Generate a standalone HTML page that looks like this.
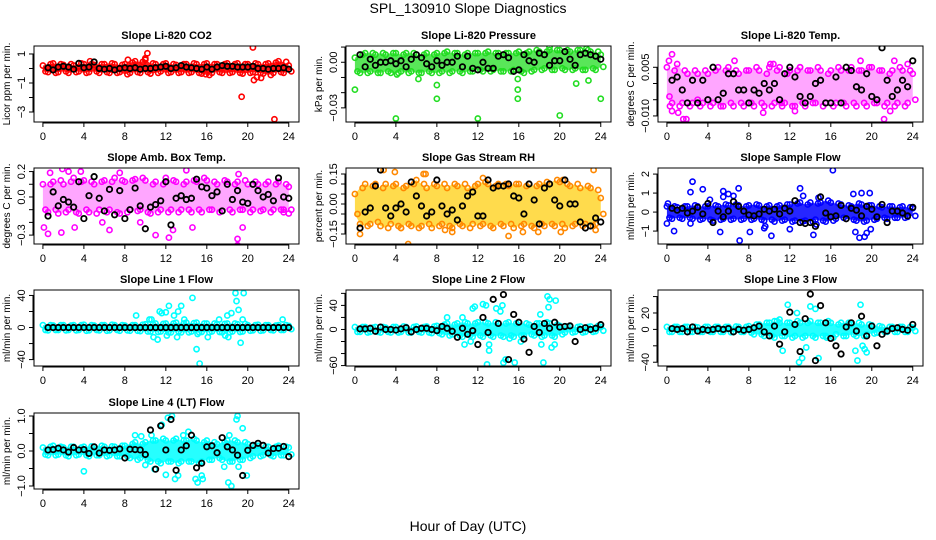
<!DOCTYPE html>
<html><head><meta charset="utf-8">
<style>
html,body{margin:0;padding:0;background:#fff;}
svg{display:block;font-family:"Liberation Sans",Arial,sans-serif;}
</style></head>
<body>
<svg id="chart" width="936" height="540" viewBox="0 0 936 540" xmlns="http://www.w3.org/2000/svg">
<text x="468" y="13" font-size="14" text-anchor="middle">SPL_130910  Slope Diagnostics</text>
<text x="468" y="531" font-size="14" text-anchor="middle">Hour of Day (UTC)</text>
</svg>
<script>
const xTicks = [0,4,8,12,16,20,24];
const hi1 = [0.2,0.3,0.35,0.3,0.25,0.3,0.2,0.35,0.3,0.3,0.25,0.3,0.3,0.35,0.3,0.25,0.3,0.4,0.5,0.45,0.6,0.35,0.3,0.3,0.35,0.3,0.25,0.3,0.3,0.35,0.3,0.3,0.35,0.3,0.3,0.3,0.35,0.3,0.35,0.3,0.3,0.35,0.3,0.3,0.35,0.4,0.5,0.45,0.2];
const lo1 = [-0.2,-0.25,-0.3,-0.25,-0.2,-0.3,-0.25,-0.2,-0.3,-0.25,-0.2,-0.3,-0.25,-0.3,-0.3,-0.25,-0.4,-0.3,-0.25,-0.3,-0.25,-0.35,-0.3,-0.2,-0.3,-0.25,-0.3,-0.25,-0.3,-0.25,-0.3,-0.35,-0.45,-0.3,-0.25,-0.3,-0.3,-0.25,-0.3,-0.35,-0.3,-0.25,-0.3,-0.35,-0.45,-0.3,-0.25,-0.3,-0.2];
const blk1 = [0.05,-0.1,0.1,0.15,0.1,-0.05,0.35,0.05,0.1,0.45,0,-0.05,0,-0.1,0,0.05,0,0.05,-0.05,0,0,0.05,0.1,0.15,0,0.05,0.2,0.1,0.05,0,-0.05,0.1,-0.05,0.1,0.2,0.15,0.15,0.1,0.1,0.1,0.15,0,0,-0.05,0,0,0.05,-0.05];
const out1 = [[10.2,1.05],[19.4,-1.95],[20.5,1.45],[20.6,-0.8],[20.9,-0.6],[21.3,-0.65],[22.6,-3.5],[4.6,0.5],[8.3,0.6],[10,0.7],[15.9,-0.4]];

const hi2 = [0.003,0.005,0.006,0.006,0.005,0.006,0.005,0.006,0.006,0.005,0.006,0.006,0.005,0.005,0.006,0.005,0.006,0.006,0.007,0.006,0.006,0.005,0.006,0.006,0.006,0.006,0.007,0.006,0.006,0.006,0.006,0.006,0.007,0.006,0.007,0.008,0.007,0.007,0.008,0.008,0.008,0.008,0.007,0.008,0.008,0.008,0.007,0.007,0.005];
const lo2 = [-0.006,-0.007,-0.007,-0.006,-0.007,-0.007,-0.006,-0.007,-0.007,-0.006,-0.007,-0.006,-0.007,-0.007,-0.006,-0.007,-0.007,-0.006,-0.007,-0.006,-0.006,-0.007,-0.006,-0.006,-0.005,-0.006,-0.006,-0.005,-0.006,-0.006,-0.006,-0.005,-0.006,-0.007,-0.006,-0.005,-0.005,-0.004,-0.005,-0.005,-0.004,-0.005,-0.005,-0.004,-0.005,-0.005,-0.004,-0.005,-0.003];
const blk2 = [0.005,-0.003,0.002,-0.002,0,0,0.001,-0.001,0.001,-0.003,0.002,0.005,0.003,-0.001,-0.003,0.001,-0.002,0,0,0.004,-0.003,0.004,-0.004,-0.005,0,-0.004,-0.004,0.004,0.005,0.003,-0.006,-0.005,0.005,0.001,0,0.006,0.005,-0.002,0.001,0.001,0.007,0.002,-0.002,0.005,0.006,0.005,0.004,0.002];
const out2 = [[0,-0.018],[4,-0.037],[6.2,-0.011],[8,-0.015],[8,-0.024],[12,-0.037],[15.9,-0.011],[15.9,-0.018],[15.9,-0.024],[19,0.01],[20,-0.035],[21.6,-0.014],[22.6,0.009],[22.8,-0.012],[24,-0.024],[4.1,-0.008]];

const hi3 = [0.005,0.004,0.006,0.004,0.003,0.004,0.003,0.004,0.003,0.004,0.005,0.004,0.005,0.004,0.003,0.004,0.004,0.005,0.004,0.003,0.005,0.004,0.005,0.003,0.004,0.004,0.005,0.004,0.004,0.005,0.004,0.003,0.004,0.005,0.004,0.004,0.005,0.004,0.004,0.005,0.005,0.004,0.004,0.003,0.004,0.005,0.004,0.004,0.003];
const lo3 = [-0.004,-0.006,-0.007,-0.006,-0.007,-0.006,-0.007,-0.006,-0.007,-0.006,-0.007,-0.007,-0.006,-0.007,-0.006,-0.007,-0.006,-0.007,-0.006,-0.007,-0.007,-0.006,-0.007,-0.006,-0.007,-0.007,-0.006,-0.007,-0.006,-0.006,-0.007,-0.006,-0.007,-0.006,-0.006,-0.007,-0.006,-0.007,-0.006,-0.007,-0.006,-0.006,-0.007,-0.006,-0.007,-0.006,-0.007,-0.006,-0.005];
const blk3 = [0.001,0.002,-0.002,-0.006,0.001,-0.006,0.001,-0.005,0.005,-0.005,-0.003,0.003,0.003,-0.002,-0.002,-0.006,-0.002,-0.003,0,-0.002,0,-0.005,0.003,0.005,0.002,-0.004,-0.006,-0.004,0,0.001,-0.006,-0.006,0.002,-0.006,0.005,0.004,-0.001,-0.002,0.003,-0.004,-0.005,0.011,0.001,-0.004,-0.002,0.001,-0.001,0.007];
const out3 = [[0.2,0.007],[0.5,0.009],[0.3,-0.007],[0.5,-0.0085],[1.6,-0.011],[1.9,-0.011],[1.1,-0.009],[3,-0.005],[9.4,-0.009],[11.2,-0.006],[12.5,-0.0085],[21.2,-0.011],[21.8,-0.0085],[6.6,0.007],[10.4,0.006],[18.9,0.007],[22.2,0.007],[23.5,0.006],[10.1,0.006],[13,0.005]];

const hi4 = [0.1,0.1,0.12,0.13,0.1,0.12,0.15,0.12,0.13,0.12,0.1,0.12,0.13,0.12,0.15,0.13,0.12,0.13,0.14,0.15,0.13,0.1,0.12,0.1,0.15,0.13,0.12,0.1,0.12,0.13,0.12,0.15,0.13,0.12,0.1,0.13,0.12,0.1,0.12,0.13,0.1,0.12,0.1,0.1,0.12,0.1,0.12,0.1,0.08];
const lo4 = [-0.1,-0.12,-0.1,-0.13,-0.12,-0.1,-0.12,-0.13,-0.1,-0.12,-0.13,-0.1,-0.12,-0.1,-0.12,-0.13,-0.12,-0.1,-0.11,-0.1,-0.12,-0.13,-0.12,-0.1,-0.12,-0.1,-0.12,-0.1,-0.1,-0.12,-0.1,-0.12,-0.1,-0.1,-0.12,-0.11,-0.1,-0.12,-0.1,-0.1,-0.12,-0.1,-0.11,-0.1,-0.12,-0.1,-0.1,-0.12,-0.1];
const blk4 = [-0.15,0.04,-0.07,-0.02,-0.04,-0.08,0.12,-0.17,0.01,0.16,-0.01,-0.11,0.06,-0.14,0.05,-0.17,-0.1,0.07,-0.07,-0.25,-0.08,-0.06,-0.03,0.12,-0.22,-0.01,0.01,-0.02,-0.01,0.14,0.08,0.07,0.01,0.04,-0.11,0.1,-0.02,0.05,-0.04,-0.05,0.1,0.05,0,0.02,-0.03,0.15,0,-0.01];
const out4 = [[0.1,-0.24],[0.5,-0.29],[0.7,0.19],[1.8,-0.28],[1.9,0.22],[2.5,0.2],[3.1,-0.24],[3.7,0.2],[5.8,-0.2],[6.5,-0.26],[7.5,0.19],[9.5,-0.2],[11,-0.3],[12.3,-0.32],[12.7,-0.26],[14,0.21],[14.6,-0.24],[19,-0.33],[19,-0.38],[19.5,-0.24],[23.5,-0.1],[24,-0.13],[19.1,0.18]];

const hi5 = [0.05,0.08,0.1,0.09,0.1,0.08,0.1,0.09,0.1,0.08,0.09,0.1,0.12,0.1,0.08,0.1,0.09,0.1,0.08,0.1,0.09,0.1,0.08,0.09,0.1,0.11,0.1,0.09,0.1,0.1,0.09,0.1,0.1,0.09,0.1,0.09,0.1,0.11,0.1,0.12,0.11,0.1,0.09,0.1,0.08,0.09,0.08,0.07,0.03];
const lo5 = [-0.05,-0.1,-0.11,-0.1,-0.09,-0.11,-0.12,-0.1,-0.11,-0.12,-0.1,-0.11,-0.12,-0.11,-0.1,-0.12,-0.11,-0.1,-0.11,-0.12,-0.1,-0.11,-0.12,-0.1,-0.11,-0.1,-0.11,-0.12,-0.1,-0.11,-0.1,-0.12,-0.11,-0.1,-0.11,-0.12,-0.1,-0.11,-0.1,-0.11,-0.1,-0.12,-0.11,-0.1,-0.11,-0.1,-0.11,-0.1,-0.05];
const blk5 = [-0.12,-0.04,-0.02,0.09,0.17,-0.02,-0.06,-0.02,0,-0.04,0.11,0.04,-0.01,-0.06,-0.04,0.12,-0.01,-0.05,-0.03,-0.08,-0.01,0.04,0.06,-0.06,-0.06,0.12,0.08,0.09,0.09,0.1,0.04,0.03,-0.05,0.1,0.02,-0.1,0.08,0.1,0.02,-0.01,0.12,0,0,-0.09,-0.12,-0.11,-0.07,-0.09];
const out5 = [[0.5,-0.15],[2.8,0.17],[3.9,0.16],[5.2,-0.2],[6.7,0.15],[6.9,0.15],[8.8,-0.13],[9.5,-0.14],[15,-0.16],[16.4,-0.14],[17.9,-0.14],[20.1,-0.14],[23.3,0.17],[23.5,-0.13],[12.5,0.13],[20.3,0.12],[4.5,-0.12]];

const hi6 = [0.3,0.3,0.25,0.3,0.3,0.35,0.3,0.3,0.3,0.35,0.3,0.4,0.35,0.4,0.35,0.3,0.35,0.4,0.35,0.3,0.35,0.3,0.35,0.4,0.4,0.45,0.5,0.4,0.5,0.45,0.5,0.6,0.5,0.45,0.4,0.35,0.3,0.45,0.4,0.35,0.35,0.3,0.25,0.3,0.3,0.25,0.3,0.25,0.2];
const lo6 = [-0.3,-0.35,-0.3,-0.35,-0.3,-0.35,-0.4,-0.35,-0.4,-0.45,-0.4,-0.35,-0.4,-0.35,-0.4,-0.35,-0.4,-0.35,-0.4,-0.45,-0.4,-0.5,-0.45,-0.4,-0.5,-0.45,-0.5,-0.45,-0.5,-0.4,-0.45,-0.5,-0.45,-0.35,-0.3,-0.35,-0.4,-0.45,-0.5,-0.45,-0.4,-0.35,-0.3,-0.35,-0.3,-0.3,-0.3,-0.25,-0.2];
const blk6 = [0.2,0.1,0.2,-0.05,0.05,0.25,-0.1,0.45,-0.55,0.05,-0.25,0.05,0.55,0.3,0.05,-0.15,-0.2,-0.1,0.15,0.05,0.15,-0.1,0.2,0.05,0.6,-0.55,-0.6,-0.55,-0.75,0.8,-0.05,-0.25,-0.2,0.35,-0.35,0.2,0.1,-0.2,0.3,0.15,-0.25,0.4,-0.55,0.05,0.05,-0.05,-0.2,0.25];
const out6 = [[0,-0.6],[0.1,0.45],[0.7,-1.0],[2.3,-0.6],[2.3,1.05],[2.5,1.6],[3.5,1.2],[4.2,0.65],[5.2,-1.05],[5.5,1.1],[5.5,0.8],[6,0.95],[6.5,0.85],[7,1.25],[7.1,-1.5],[8.1,-1.05],[9.5,-0.85],[9.6,-0.75],[10.2,-1.25],[12,-0.9],[13,1.25],[13.3,0.85],[14.3,-1.2],[14.6,-0.65],[16.2,2.2],[18.2,0.95],[18.4,-1.05],[18.8,-1.35],[19,1.0],[19.3,-1.3],[19.5,-1.1],[19.8,1.0],[19.9,-0.9],[14.8,0.75]];

const hi7 = [3,3,2.5,3,3,2.5,3,3,3.5,3,2.5,3,3,3.5,3,3,2.5,3,3,3.5,4,4,5,4.5,5,5,6,5,6,5.5,6,5,5,5,4,4.5,5,5,4,4.5,3,3,3.5,3,3,2.5,3,3,2];
const lo7 = [-3,-3.5,-3,-3,-3.5,-3,-3.5,-3,-4,-3.5,-3,-3.5,-4,-3.5,-3,-4,-3.5,-4,-4,-4.5,-5,-5,-5.5,-5,-6,-6,-5,-6,-6,-5,-6,-5.5,-6,-5,-5.5,-6,-6,-5,-5.5,-5,-4,-3.5,-4,-3.5,-3,-3.5,-3,-3,-2];
const blk7 = [0,0,0,0,0,0,0,0,0,0,0,0,0,0,0,0,0,0,0,0,0,0,0,0,0,0,0,0,0,0,0,0,0,0,0,0,0,0,0,0,0,0,0,0,0,0,0,0];
const out7 = [[9.1,15],[10.4,10],[10.8,-12],[11.2,-15],[11.4,20],[11.6,18],[12,19],[12.1,-10],[12.3,27],[12.8,15],[13.1,-12],[13.2,20],[13.5,27],[13.8,10],[14.6,37],[15,-27],[15.3,-45],[15.1,-8],[16.1,-12],[17.2,10],[17.8,-10],[18,15],[18.4,18],[18.1,-12],[18.8,43],[18.9,33],[19.1,22],[19.3,-19],[19.6,43],[19.5,10],[23.4,10],[10.6,10]];

const hi8 = [4,4,4,3,4,4,3,4,4,5,4,4,5,4,5,5,6,8,10,8,10,12,10,10,12,12,10,12,10,10,12,10,12,10,8,10,10,12,10,8,6,5,5,4,5,4,5,6,4];
const lo8 = [-4,-4,-5,-4,-4,-5,-4,-5,-5,-4,-5,-5,-4,-5,-5,-6,-6,-8,-10,-8,-10,-12,-10,-12,-10,-12,-10,-12,-10,-12,-10,-12,-10,-10,-8,-10,-12,-10,-10,-12,-8,-5,-5,-4,-5,-4,-4,-3,-2];
const blk8 = [1,1,2,-3,4,0,0,-1,1,3,-4,0,2,2,0,-2,5,2,-3,-13,2,-8,-2,-25,20,-5,50,10,58,-50,25,12,-16,-38,5,-5,10,2,12,4,5,6,-20,0,3,0,2,8];
const out8 = [[9,20],[10.5,20],[10.7,-25],[11.3,-20],[11.5,35],[11.7,38],[12.5,42],[12.8,40],[12.9,-58],[13.1,-25],[13.1,-35],[13.8,35],[14.2,30],[14.4,40],[14.5,-55],[14.7,-50],[15.1,-15],[15.6,-55],[16.2,-20],[18.1,25],[18.2,-25],[18.4,-55],[18.8,55],[19,50],[19.2,-30],[19.5,-25],[19.6,48],[18.9,37]];

const hi9 = [3,3,3,3,3,3,2.5,3,3,3,3,3,3,3.5,3,3,4,6,6,8,8,10,8,8,8,10,8,8,10,8,8,10,8,6,8,8,6,8,6,6,5,4,3,3,3,3,3,3,2];
const lo9 = [-3,-3,-3,-3,-3,-3,-3,-3,-3,-3,-3,-3,-3.5,-3,-3,-3,-4,-6,-6,-8,-8,-10,-8,-8,-10,-8,-10,-8,-8,-10,-8,-8,-10,-6,-8,-8,-6,-8,-8,-6,-5,-4,-3,-3,-3,-3,-3,-3,-2];
const blk9 = [1,0,1,-3,3,-2,0,-1,0,1,0,1,-3,0,-1,0,2,4,-3,-8,4,-18,-3,21,6,-27,13,43,-38,29,8,-11,-20,-30,3,8,-2,16,-8,4,-20,-6,-2,1,2,0,-1,6];
const out9 = [[11.3,-26],[11.8,30],[12.7,20],[12.9,-40],[13.2,-35],[13.6,-22],[14,28],[14.5,25],[14.8,-35],[15.6,-10],[18.4,-26],[18.6,-38],[18.9,30],[19.1,-20],[19.3,-24],[19.5,-28],[17.8,6],[10.5,10],[11,12]];

const hi10 = [0.1,0.12,0.15,0.12,0.1,0.12,0.12,0.1,0.12,0.13,0.12,0.15,0.12,0.13,0.12,0.15,0.15,0.2,0.25,0.2,0.25,0.3,0.3,0.35,0.3,0.3,0.35,0.3,0.3,0.35,0.3,0.25,0.3,0.25,0.2,0.25,0.3,0.3,0.25,0.25,0.2,0.15,0.15,0.12,0.12,0.12,0.15,0.12,0.1];
const lo10 = [-0.1,-0.12,-0.12,-0.1,-0.12,-0.15,-0.12,-0.1,-0.12,-0.15,-0.12,-0.12,-0.15,-0.12,-0.15,-0.15,-0.15,-0.2,-0.25,-0.2,-0.25,-0.3,-0.3,-0.35,-0.3,-0.3,-0.35,-0.3,-0.3,-0.3,-0.35,-0.3,-0.25,-0.25,-0.2,-0.25,-0.3,-0.3,-0.25,-0.25,-0.2,-0.15,-0.15,-0.12,-0.12,-0.15,-0.12,-0.12,-0.1];
const blk10 = [0.03,0.04,0.08,0.03,-0.03,0.1,0.03,0.04,-0.07,0.12,-0.06,0.03,0.02,0.03,0.06,-0.2,0.05,0.04,0.03,-0.1,0.6,-0.52,0.72,0.03,0.9,-0.55,0.03,0.15,0.45,-0.48,-0.35,0.12,0.15,-0.05,0.38,0.12,0.03,-0.12,-0.7,0.02,0.16,0.22,0.16,-0.06,0.07,0.08,0.13,-0.16];
const out10 = [[4,-0.58],[9,0.45],[9.6,0.42],[10,-0.4],[10.6,0.45],[10.9,-0.52],[11.6,0.75],[12,-0.68],[12.2,0.95],[12.6,1.0],[12.9,-0.8],[13.2,-0.7],[13.7,0.45],[14.2,0.55],[14.9,-0.8],[15.1,-0.9],[15.5,-0.7],[15.6,-0.8],[18.1,-0.9],[18.4,-1.0],[18.2,0.45],[18.9,0.9],[19,1.0],[19.1,-0.45],[19.5,0.65],[19.9,-0.7],[17.7,-0.45]];

const titles = ["Slope Li-820 CO2","Slope Li-820 Pressure","Slope Li-820 Temp.","Slope Amb. Box Temp.","Slope Gas Stream RH","Slope Sample Flow","Slope Line 1 Flow","Slope Line 2 Flow","Slope Line 3 Flow","Slope Line 4 (LT) Flow"];
const yTitles = ["Licor ppm per min.","kPa per min.","degrees C per min.","degrees C per min.","percent per min.","ml/min per min.","ml/min per min.","ml/min per min.","ml/min per min.","ml/min per min."];
const yLims = [[-3.69,1.55],[-0.0393,0.0107],[-0.01187,0.01156],[-0.37,0.228],[-0.20,0.18],[-1.68,2.32],[-48,46.8],[-60.7,65.6],[-44.6,48],[-1.086,1.086]];
const yTicks = [[1,0,-1,-2,-3],[0.01,0,-0.01,-0.02,-0.03],[0.005,0,-0.005,-0.01],[0.2,0.1,0,-0.1,-0.2,-0.3],[0.15,0.1,0.05,0,-0.05,-0.1,-0.15],[2,1,0,-1],[40,20,0,-20,-40],[60,40,20,0,-20,-40,-60],[40,20,0,-20,-40],[1,0.5,0,-0.5,-1]];
const yTickLabels = [["1","","−1","","−3"],["","0.00","","","−0.03"],["0.005","","","−0.010"],["0.2","","0.0","","","−0.3"],["0.15","","","0.00","","","−0.15"],["2","1","0","−1"],["40","","0","","−40"],["","40","","0","","","−60"],["","20","0","","−40"],["1.0","","0.0","","−1.0"]];
const hiArr = [hi1,hi2,hi3,hi4,hi5,hi6,hi7,hi8,hi9,hi10];
const loArr = [lo1,lo2,lo3,lo4,lo5,lo6,lo7,lo8,lo9,lo10];
const blkArr = [blk1,blk2,blk3,blk4,blk5,blk6,blk7,blk8,blk9,blk10];
const outArr = [out1,out2,out3,out4,out5,out6,out7,out8,out9,out10];
const colors = ["#ff0000","#22dd22","#ff00ff","#ff00ff","#ff8800","#0000ff","#00ffff","#00ffff","#00ffff","#00ffff"];
const bandColors = ["#ff0000","#22dd22","#ff00ff","#ff00ff","#ffcc00","#0000ff","#00ffff","#00ffff","#00ffff","#00ffff"];
const bandOpacity = [0.9,0.75,0.35,0.35,0.7,0.85,0.9,0.85,0.85,0.85];

const NS = "http://www.w3.org/2000/svg";
const svg = document.getElementById('chart');
const colLeft = [34,346,658], rowTop = [46,168,290,413];
const PW = 265, PH = 76, XMIN = -0.87, XMAX = 25.0;

function mk(tag, attrs, parent){
  const e = document.createElementNS(NS, tag);
  for (const k in attrs) e.setAttribute(k, attrs[k]);
  (parent||svg).appendChild(e);
  return e;
}

for (let p = 0; p < 10; p++) {
  const L = colLeft[p % 3], T = rowTop[Math.floor(p / 3)];
  const [ymin, ymax] = yLims[p];
  const xs = h => L + (h - XMIN) / (XMAX - XMIN) * PW;
  const ys = v => T + PH - (v - ymin) / (ymax - ymin) * PH;
  const g = mk('g', {});
  
  
  const clipId = 'clip' + p;
  const cp = mk('clipPath', {id: clipId}, g);
  mk('rect', {x: L, y: T, width: PW, height: PH}, cp);

  const tt = mk('text', {x: L + PW / 2, y: T - 7, 'font-size': 11, 'font-weight': 'bold', 'text-anchor': 'middle'}, g);
  tt.textContent = titles[p];
  
  

  const yt = mk('text', {x: 0, y: 0, 'font-size': 10, 'text-anchor': 'middle', transform: `translate(${L - 24},${T + PH / 2}) rotate(-90)`}, g);
  yt.textContent = yTitles[p];
  
  

  const marks = mk('g', {'clip-path': `url(#${clipId})`}, g);
  
  
  const col = colors[p];
  const hi = hiArr[p], lo = loArr[p];
  let pts = [];
  hi.forEach((v, i) => pts.push(xs(0.5 * i) + ',' + ys(v)));
  for (let i = lo.length - 1; i >= 0; i--) pts.push(xs(0.5 * i) + ',' + ys(lo[i]));
  const band = mk('polygon', {points: pts.join(' '), fill: bandColors[p], 'fill-opacity': bandOpacity[p], stroke: 'none'}, marks);
  
  
  const circ = (h, v, c, w, r) => mk('circle', {cx: xs(h), cy: ys(v), r: r, fill: 'none', stroke: c, 'stroke-width': w}, marks);
  hi.forEach((v, i) => {
    const e = circ(0.5 * i + 0.25 * (i % 2), v, col, 1.6, 2.6);
    
    
  });
  lo.forEach((v, i) => {
    const e = circ(0.5 * i + 0.25 * ((i + 1) % 2), v, col, 1.6, 2.6);
    
    
  });
  outArr[p].forEach(o => {
    const e = circ(o[0], o[1], col, 1.6, 2.6);
    
    
  });
  blkArr[p].forEach((v, i) => {
    const e = circ(0.5 * (i + 1), v, '#000', 1.8, 2.7);
    
    
  });

  const box = mk('rect', {x: L, y: T, width: PW, height: PH, fill: 'none', stroke: '#000', 'stroke-width': 1}, g);
  
  

  const xa = mk('g', {}, g);
  
  
  mk('line', {x1: xs(0), x2: xs(24), y1: T + PH + 1, y2: T + PH + 1, stroke: '#000'}, xa);
  xTicks.forEach(h => {
    mk('line', {x1: xs(h), x2: xs(h), y1: T + PH, y2: T + PH + 5, stroke: '#000'}, xa);
    const t = mk('text', {x: xs(h), y: T + PH + 18, 'font-size': 11, 'text-anchor': 'middle'}, xa);
    t.textContent = h;
    
    
  });
  const ya = mk('g', {}, g);
  
  
  const tk = yTicks[p];
  mk('line', {x1: L - 1, x2: L - 1, y1: ys(tk[0]), y2: ys(tk[tk.length - 1]), stroke: '#000'}, ya);
  tk.forEach((v, i) => {
    mk('line', {x1: L - 5, x2: L, y1: ys(v), y2: ys(v), stroke: '#000'}, ya);
    const lab = yTickLabels[p][i];
    if (lab) {
      const t = mk('text', {x: 0, y: 0, 'font-size': 11, 'text-anchor': 'middle', transform: `translate(${L - 9},${ys(v)}) rotate(-90)`}, ya);
      t.textContent = lab;
      
      
    }
  });
}
</script>
</body></html>
